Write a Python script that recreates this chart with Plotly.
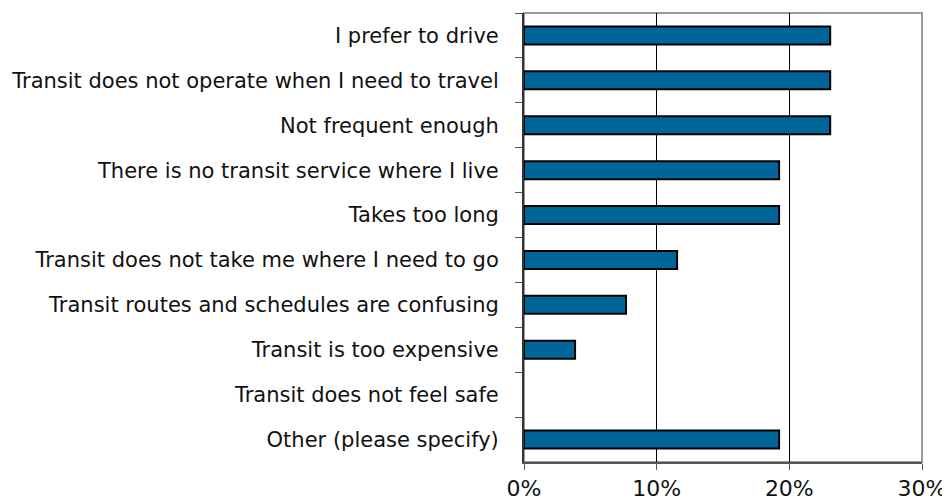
import plotly.graph_objects as go

categories = [
    "I prefer to drive",
    "Transit does not operate when I need to travel",
    "Not frequent enough",
    "There is no transit service where I live",
    "Takes too long",
    "Transit does not take me where I need to go",
    "Transit routes and schedules are confusing",
    "Transit is too expensive",
    "Transit does not feel safe",
    "Other (please specify)",
]
values = [0.2308, 0.2308, 0.2308, 0.1923, 0.1923, 0.1154, 0.0769, 0.0385, 0.0, 0.1923]
x_ticks = [0, 0.1, 0.2, 0.3]
x_tick_labels = ["0%", "10%", "20%", "30%"]

outline_widths = [2 if v > 0 else 0 for v in values]

fig = go.Figure(go.Bar(
    y=categories, x=values, orientation="h",
    marker=dict(color="#006699", line=dict(color="#000000", width=outline_widths)),
    width=0.4,
))

# page body has an 8px default margin, so the figure is sized to fit inside it
fig.update_layout(
    width=942, height=496,
    margin=dict(l=516, r=28, t=5, b=42),
    paper_bgcolor="white", plot_bgcolor="white",
    font=dict(family="DejaVu Sans", size=21, color="#111111"),
    showlegend=False,
    shapes=[dict(type="rect", xref="paper", yref="paper", x0=0, x1=1, y0=0, y1=1,
                 line=dict(color="#999999", width=2), layer="below")],
)
fig.update_xaxes(
    range=[0, 0.3], tickvals=x_ticks, ticktext=x_tick_labels,
    showgrid=True, gridcolor="#000000", gridwidth=1,
    showline=True, linecolor="#555555", linewidth=2,
    ticks="outside", ticklen=6, tickcolor="#555555",
    tickfont=dict(size=22), zeroline=False, automargin=False,
)
fig.update_yaxes(
    categoryorder="array", categoryarray=categories, autorange="reversed",
    showline=True, linecolor="#333333", linewidth=2,
    ticks="outside", tickson="boundaries", ticklen=7, tickcolor="#555555",
    showgrid=False, ticklabelstandoff=19, automargin=False,
)

fig.write_html("out.html")
